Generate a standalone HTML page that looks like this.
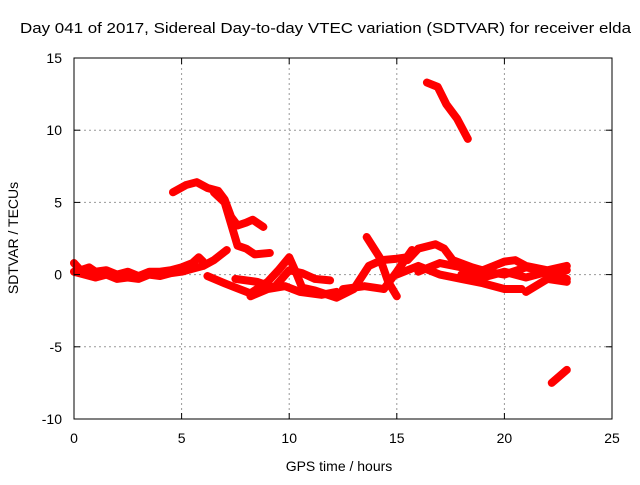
<!DOCTYPE html>
<html><head><meta charset="utf-8"><style>
body{margin:0;background:#fff}
svg text{font-family:"Liberation Sans",sans-serif;font-size:14px;fill:#000}
</style></head><body>
<svg id="chart" width="640" height="480">
<rect width="640" height="480" fill="#fff"/>
<text x="20" y="33" textLength="611" lengthAdjust="spacingAndGlyphs" style="font-size:15px">Day 041 of 2017, Sidereal Day-to-day VTEC variation (SDTVAR) for receiver elda</text>
<g id="grid"></g><g id="series"></g>
<rect x="74" y="58" width="538" height="361" fill="none" stroke="#000" stroke-width="1"/>
<g id="ticks"></g>
<text x="339" y="471" text-anchor="middle">GPS time / hours</text>
<text transform="translate(18,238) rotate(-90)" text-anchor="middle">SDTVAR / TECUs</text>
</svg>
<script>
const xTicks=[0,5,10,15,20,25];
const yTicks=[-10,-5,0,5,10,15];
const trackMain=[[0,0.8],[0.3,0.3],[0.7,0.5],[1,0.2],[1.5,0.3],[2,0],[2.5,0.2],[3,-0.1],[3.5,0.2],[4,0.2],[4.5,0.3],[5,0.5],[5.5,0.8],[5.8,1.2],[6,0.9]];
const trackMainLow=[[0,0.2],[0.5,0],[1,-0.2],[1.5,0],[2,-0.3],[2.5,-0.2],[3,-0.3],[3.5,0],[4,-0.1],[4.5,0.1],[5,0.2],[5.5,0.4],[6,0.6],[6.5,1],[7.1,1.7]];
const trackPeak=[[4.6,5.7],[5.2,6.2],[5.7,6.4],[6.2,6],[6.7,5.8],[7,5.2],[7.3,4],[7.6,3.4],[8,3.6],[8.3,3.8],[8.8,3.3]];
const trackPeak2=[[6.5,5.7],[7,5],[7.4,3],[7.6,2],[8,1.8],[8.4,1.4],[9.1,1.5]];
const trackDip=[[6.2,-0.1],[7,-0.6],[7.5,-0.9],[8.2,-1.3],[9,-0.5],[9.5,0.3],[10,1.2],[10.3,0.2],[10.6,-0.9],[11.2,-1.1],[12.2,-1.6],[13,-1],[13.7,0.6],[14.3,1],[15,1.1],[15.5,1.2]];
const trackDip2=[[7.5,-0.3],[8.5,-0.5],[9.3,-0.9],[10,0.3],[10.6,0.1],[11.2,-0.3],[11.9,-0.4]];
const trackDip3=[[8.2,-1.5],[9,-1],[9.8,-0.8],[10.5,-1.2],[11.5,-1.4],[12.2,-1.2]];
const trackA=[[13.6,2.6],[14.2,1.2],[14.6,-0.5],[15,-1.5]];
const trackB=[[12.5,-1],[13.5,-0.8],[14.4,-1],[15,0.2],[15.7,1.7]];
const trackC=[[15.5,1],[16,1.8],[16.8,2.1],[17.2,1.8],[17.6,1],[18.5,0.5],[19.2,0.2],[20,0],[21,0.5],[22,0.2],[22.9,0.3]];
const trackD=[[16,0.2],[17,0.8],[18,0.5],[19,0.3],[19.5,0.6],[20,0.9],[20.5,1],[21,0.6],[22,0.3],[22.9,0.6]];
const trackE=[[15,0],[16,0.6],[17,0],[18,-0.3],[19,-0.6],[20,-1],[20.8,-1]];
const trackF=[[21,-1.2],[22,-0.3],[22.9,-0.5]];
const trackG=[[18,0],[19,-0.2],[20,0.2],[21,-0.2],[22,0.2],[22.9,-0.3]];
const trackTop=[[16.4,13.3],[16.9,13],[17.3,11.8],[17.8,10.8],[18.3,9.4]];
const trackBottom=[[22.2,-7.5],[22.9,-6.6]];
const allTracks=[trackMain,trackMainLow,trackPeak,trackPeak2,trackDip,trackDip2,trackDip3,trackA,trackB,trackC,trackD,trackE,trackF,trackG,trackTop,trackBottom];
const X0=74,X1=612,Y0=419,Y1=58;
function xs(v){return X0+(v-0)/25*(X1-X0);}
function ys(v){return Y0-(v+10)/25*(Y0-Y1);}
const NS='http://www.w3.org/2000/svg';
const grid=document.getElementById('grid'),ticks=document.getElementById('ticks'),ser=document.getElementById('series');
function mk(t,a,p){const e=document.createElementNS(NS,t);for(const k in a)e.setAttribute(k,a[k]);p.appendChild(e);return e;}
xTicks.forEach(v=>{const x=xs(v);
 if(v>0&&v<25){const g=mk('line',{x1:x,x2:x,y1:Y1,y2:Y0,stroke:'#999','stroke-dasharray':'2,3'},grid);
 
 }
 mk('line',{x1:x,x2:x,y1:Y0,y2:Y0-6,stroke:'#000'},ticks);mk('line',{x1:x,x2:x,y1:Y1,y2:Y1+6,stroke:'#000'},ticks);
 const t=mk('text',{x:x,y:443,'text-anchor':'middle'},ticks);t.textContent=v;
 
 });
yTicks.forEach(v=>{const y=ys(v);
 if(v>-10&&v<15){const g=mk('line',{x1:X0,x2:X1,y1:y,y2:y,stroke:'#999','stroke-dasharray':'2,3'},grid);
 
 }
 mk('line',{x1:X0,x2:X0+6,y1:y,y2:y,stroke:'#000'},ticks);mk('line',{x1:X1,x2:X1-6,y1:y,y2:y,stroke:'#000'},ticks);
 const t=mk('text',{x:62,y:y+5,'text-anchor':'end'},ticks);t.textContent=v;
 
 });
allTracks.forEach(tr=>{
 const p=mk('polyline',{points:tr.map(d=>xs(d[0])+','+ys(d[1])).join(' '),fill:'none',stroke:'#f00','stroke-width':8,'stroke-linejoin':'round','stroke-linecap':'round'},ser);
 
 });
</script>
</body></html>
